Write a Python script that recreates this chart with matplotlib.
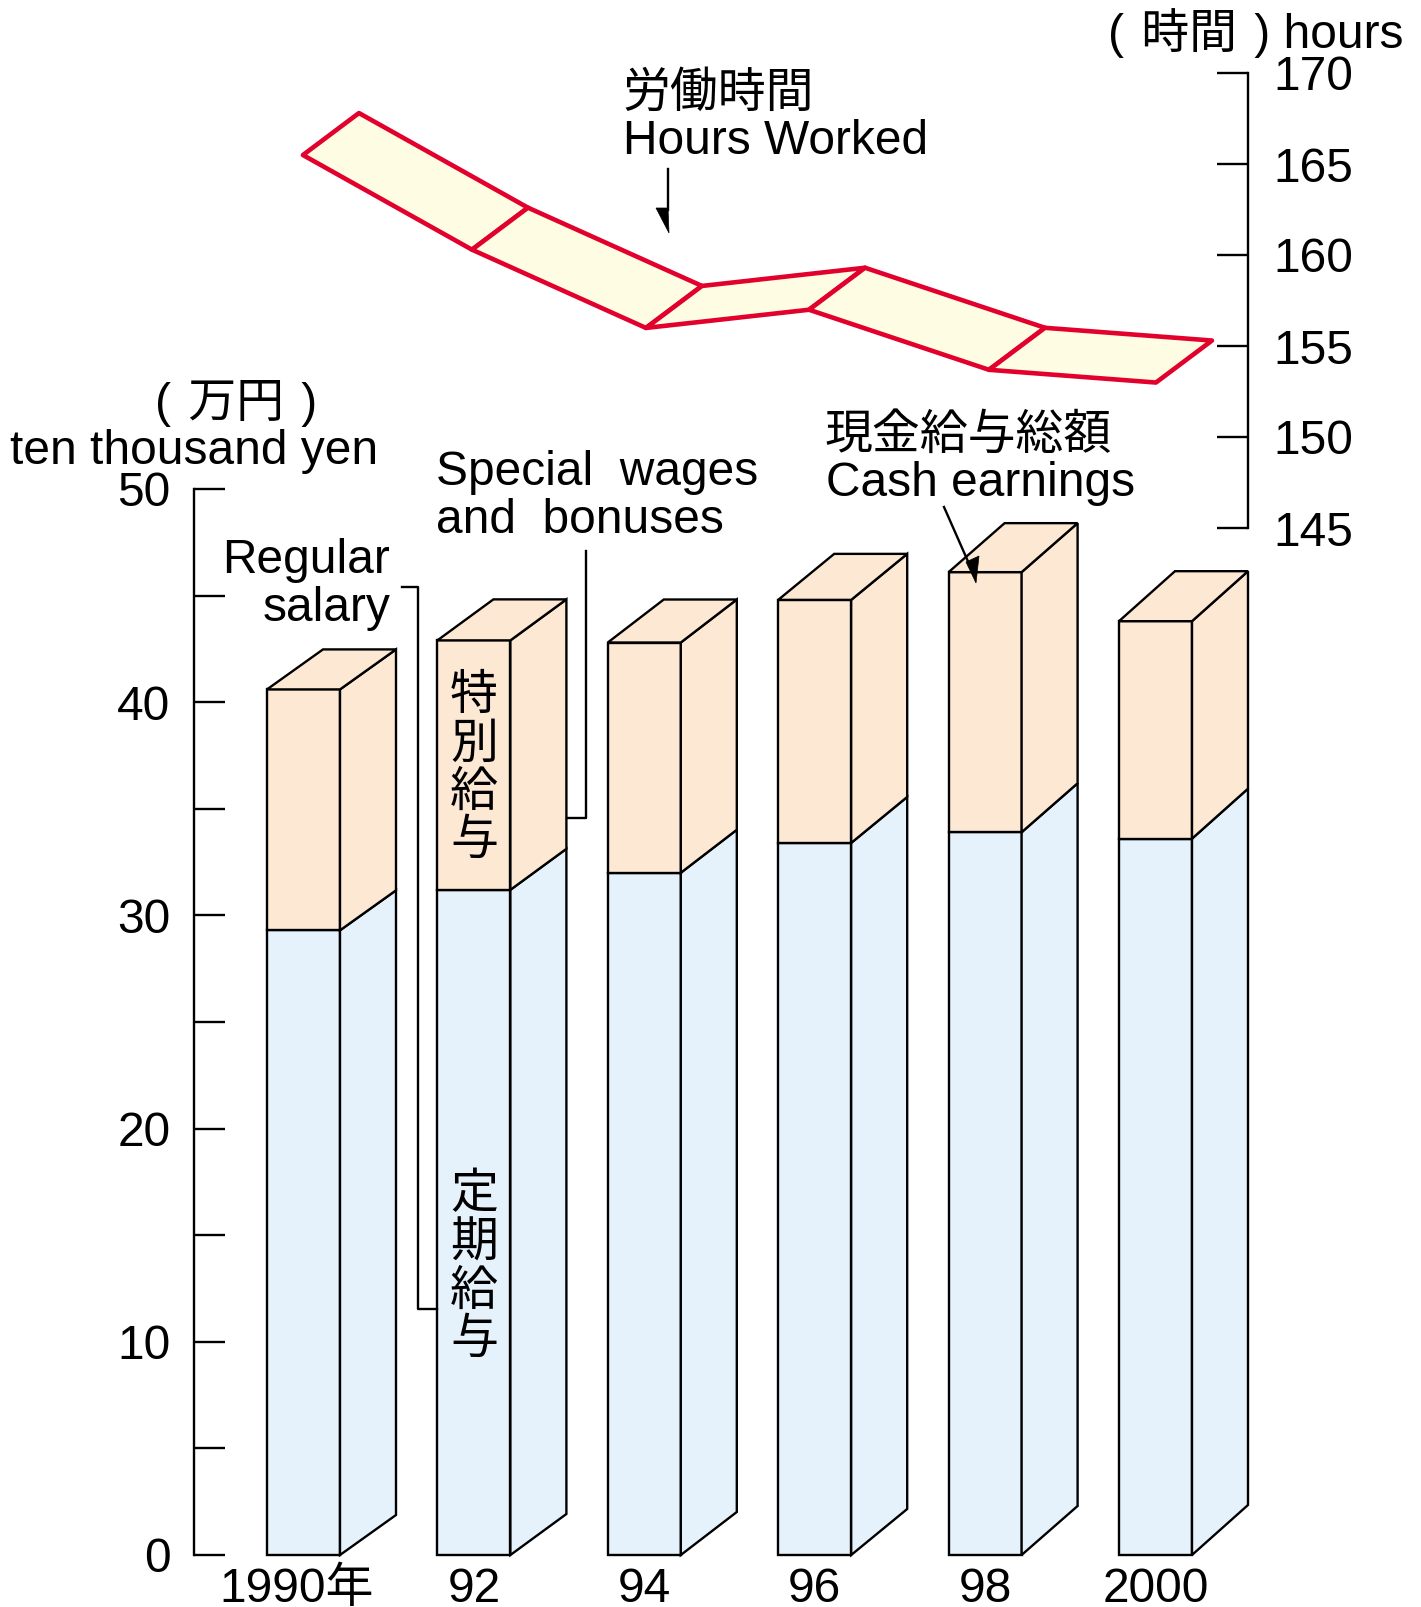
import matplotlib
matplotlib.use('Agg')
from matplotlib import pyplot as plt
from matplotlib.transforms import Affine2D

W, H = 1421, 1607

years = ['1990年', '92', '94', '96', '98', '2000']
regular = [29.3, 31.2, 32.0, 33.4, 33.9, 33.6]
total = [40.6, 42.9, 42.8, 44.8, 46.1, 43.8]
hours = [167.8, 162.6, 158.3, 159.3, 156.0, 155.3]
hours_x = [0.211, 1.203, 2.224, 3.181, 4.237, 5.217]

plt.rcParams['font.family'] = ['Liberation Sans', 'Noto Sans CJK JP']
plt.rcParams['font.size'] = 34.5

blue, peach, cream, red = '#E5F2FC', '#FDE8D4', '#FEFCE3', '#E2002D'
lw = 1.7
step = 170.4  # pixels between bars
bar_w = 73 / step
depth_x = 56 / step
depth_y = [40 / 21.32, 41 / 21.32, 43 / 21.32, 46 / 21.32, 49 / 21.32, 50 / 21.32]

fig = plt.figure(figsize=(W / 100, H / 100), dpi=100)
pix = Affine2D().scale(1, -1).translate(0, H)  # reference pixels to display


def add_axes(top, bottom):
    return fig.add_axes([194 / W, 1 - bottom / H, (1248 - 194) / W, (bottom - top) / H])


x0, x1 = (194 - 267) / step, (1248 - 267) / step

# bars
ax = add_axes(489, 1555)
ax.set_xlim(x0, x1)
ax.set_ylim(0, 50)
for i in range(len(years)):
    dy = depth_y[i]
    for low, high, c in [(0, regular[i], blue), (regular[i], total[i], peach)]:
        ax.bar(i, high - low, bar_w, bottom=low, align='edge', color=c, edgecolor='k', lw=lw, zorder=3, clip_on=False)
        ax.fill([i + bar_w, i + bar_w + depth_x, i + bar_w + depth_x, i + bar_w],
                [low, low + dy, high + dy, high], fc=c, ec='k', lw=lw, zorder=3, clip_on=False)
    ax.fill([i, i + bar_w, i + bar_w + depth_x, i + depth_x],
            [total[i], total[i], total[i] + dy, total[i] + dy], fc=peach, ec='k', lw=lw, zorder=3, clip_on=False)

for s in ['top', 'right', 'bottom']:
    ax.spines[s].set_visible(False)
ax.spines['left'].set_linewidth(lw)
ax.set_yticks(range(0, 51, 10))
ax.set_yticks(range(5, 50, 10), minor=True)
ax.tick_params(axis='y', which='both', direction='in', length=22.5, width=lw, pad=17)
xt = [i + bar_w / 2 for i in range(len(years))]
xt[0] -= 7 / step
ax.set_xticks(xt, years)
ax.tick_params(axis='x', length=0, pad=9)
ax.patch.set_alpha(0)

# hours ribbon
ax2 = add_axes(73, 528)
ax2.set_xlim(x0, x1)
ax2.set_ylim(145, 170)
ax2.patch.set_alpha(0)
rib_dx = 56 / step
rib_dy = 42 / 18.2
for i in range(len(hours) - 1):
    a, b = hours_x[i], hours_x[i + 1]
    ax2.fill([a, a + rib_dx, b + rib_dx, b],
             [hours[i] - rib_dy, hours[i], hours[i + 1], hours[i + 1] - rib_dy],
             fc=cream, ec=red, lw=3.3, joinstyle='round', clip_on=False)
for s in ['top', 'left', 'bottom']:
    ax2.spines[s].set_visible(False)
ax2.spines['right'].set_linewidth(lw)
ax2.set_xticks([])
ax2.yaxis.tick_right()
ax2.set_yticks(range(145, 171, 5))
ax2.tick_params(axis='y', direction='in', length=22.5, width=lw, pad=18)


# text and leader lines
def label(x, y, s, ha='left', **kw):
    fig.text(x, y, s, transform=pix, ha=ha, va='baseline', **kw)


def leader(xs, ys, z=5):
    fig.add_artist(plt.Line2D(xs, ys, transform=pix, color='k', lw=lw, zorder=z))


def head(xs, ys):
    fig.add_artist(plt.Polygon(list(zip(xs, ys)), transform=pix, fc='k', ec='k', lw=0.5, zorder=5))


label(1404, 48, '(\u200a 時間 \u200a) hours', ha='right')
label(622, 107, '労働時間')
label(623, 154, 'Hours Worked')
label(155, 417, '(\u200a 万円 \u200a)')
label(10, 464, 'ten thousand yen')
label(436, 485, 'Special  wages')
label(436, 533, 'and  bonuses')
label(390, 573, 'Regular', ha='right')
label(390, 621, 'salary', ha='right')
label(824, 449, '現金給与総額')
label(826, 496, 'Cash earnings')
fig.text(474, 769, '特\n別\n給\n与', transform=pix, ha='center', va='center', linespacing=1.09, zorder=6)
fig.text(474, 1268, '定\n期\n給\n与', transform=pix, ha='center', va='center', linespacing=1.09, zorder=6)

leader([402, 418, 418, 437], [587, 587, 1309, 1309])
leader([586, 586, 567], [551, 818, 818])
leader([668, 668], [169, 210])
head([656, 668, 669], [208, 208, 233])
leader([944, 974], [507, 575])
head([966, 979, 976], [562, 556, 583])

fig.savefig('out.png', dpi=100)
